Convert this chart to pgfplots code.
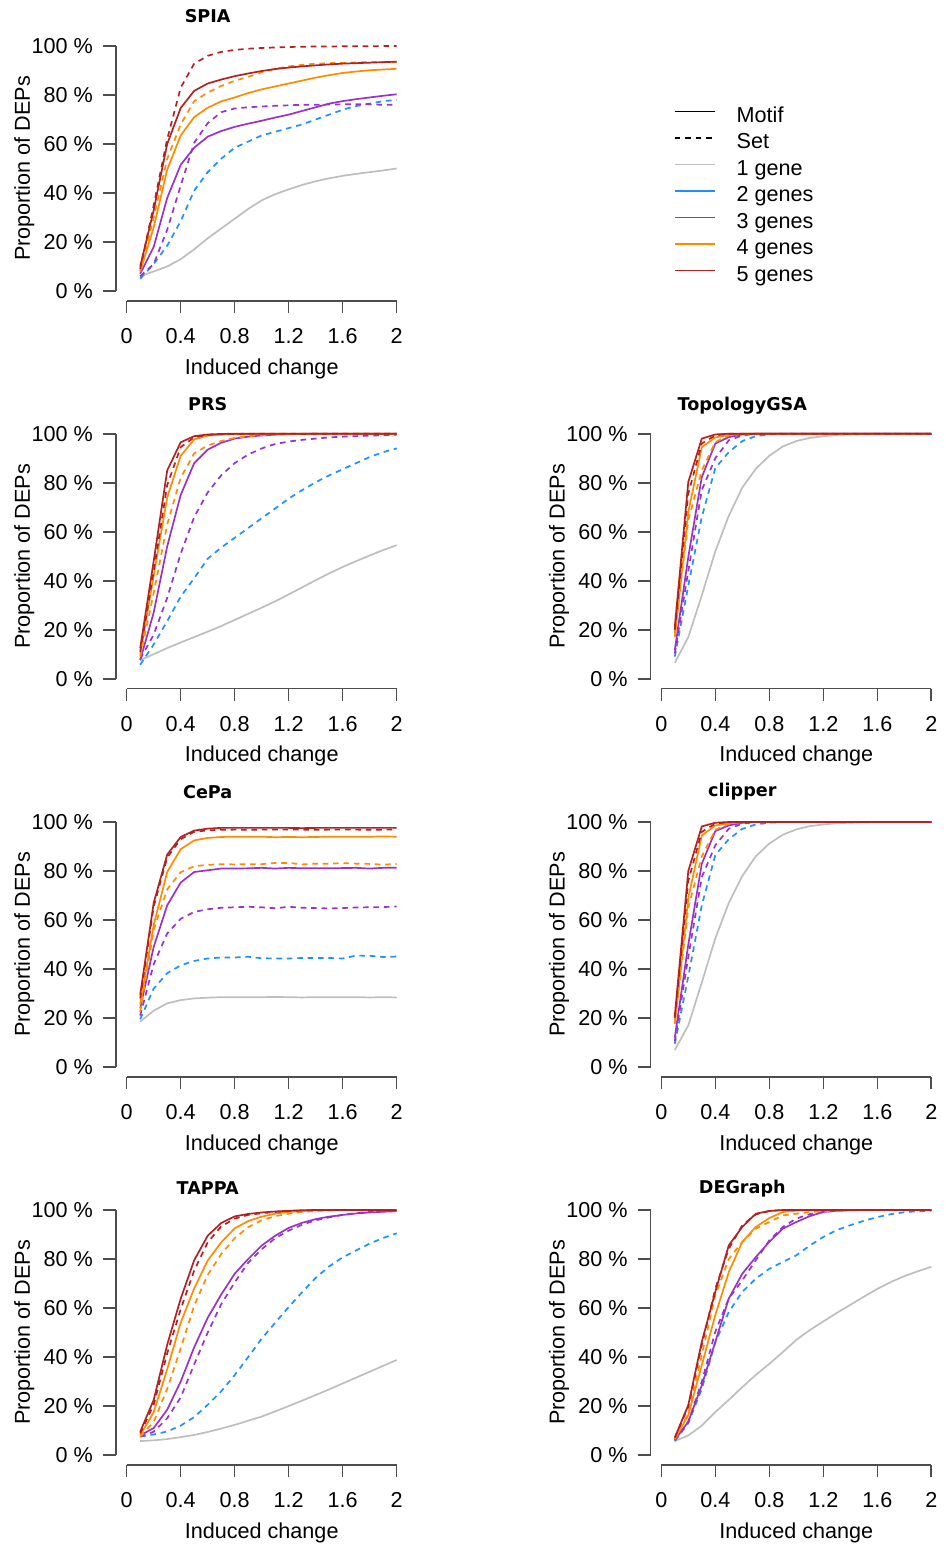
\documentclass[border=0pt]{standalone}
\usepackage{fontspec}
\setmainfont{Liberation Sans}
\newfontfamily\titlefamily{DejaVu Sans}
\usepackage{pgfplots}
\usepackage{pgfplotstable}
\pgfplotsset{compat=1.18}

\definecolor{cgray}{HTML}{BEBEBE}
\definecolor{cblue}{HTML}{1E90FF}
\definecolor{cpurple}{HTML}{9932CC}
\definecolor{corange}{HTML}{FF8C00}
\definecolor{cred}{HTML}{B22222}
\definecolor{axgray}{HTML}{4D4D4D}

\newcommand{\lab}{\fontsize{10.8}{13}\selectfont}
\newcommand{\ttl}{\titlefamily\bfseries\fontsize{8.8}{10}\selectfont}

% columns: x, 1 gene, 2 genes set, 3 genes motif, 3 genes set, 4 motif, 4 set, 5 motif, 5 set
\pgfplotstableread{
x    g1    bd    ps    pd    os    od    rs    rd
0.1  6     5     7     6     8     8     10    9
0.2  8     11    18    11    26    30    33    35
0.3  10    18.5  38    25    49.5  54    60    62
0.4  13    28.5  51.5  43    63.5  68    74.7  83
0.5  17    41    58.5  60.5  71    77.5  81.7  92.8
0.6  21.5  48.5  63    68.5  74.8  81    84.7  96
0.7  25.5  54    65.3  73    77.4  83.7  86.3  97.6
0.8  29.5  58.5  67    74.5  79    85.8  87.7  98.4
0.9  33.5  61    68.3  75    80.8  87.4  88.8  98.9
1.0  37    63.5  69.5  75.3  82.3  89.3  89.8  99.2
1.1  39.5  65    70.8  75.6  83.5  90.7  90.6  99.4
1.2  41.5  66.5  72    75.8  84.7  91.7  91.2  99.6
1.3  43.3  68    73.5  76    85.9  92.3  91.7  99.7
1.4  44.8  70    75    76    87.1  92.8  92.1  99.8
1.5  46    72    76.5  76.1  88.1  93    92.5  99.8
1.6  47    74    77.5  76.2  89    93.2  92.8  99.9
1.7  47.8  75.5  78.3  76.2  89.6  93.3  93    99.9
1.8  48.5  76.5  79    76.2  90.1  93.4  93.2  99.9
1.9  49.2  77.5  79.7  76    90.4  93.5  93.4  100
2.0  50    78    80.3  76    90.7  93.5  93.6  100
}\spia

\pgfplotstableread{
x    g1    bd    ps    pd    os    od    rs    rd
0.1  7.6   5.7   7.6   8     10    9     12.5  11
0.2  10    14    27    18    42    35    48    44
0.3  12.5  23.5  54    33    74    63    85    79
0.4  14.8  33.5  75    51    91    82    96.5  94.5
0.5  17    41    88    66    97.7  92    99    98.5
0.6  19.2  49    93.5  76    99.2  95.2  99.7  99.5
0.7  21.5  53.5  96.3  83    99.6  97    99.9  99.8
0.8  24    57.5  98    88    99.8  98.3  100   99.9
0.9  26.5  61.5  98.8  91.5  99.9  99    100   100
1.0  29    65.5  99.3  94    100   99.4  100   100
1.1  31.6  69.5  99.6  95.8  100   99.6  100   100
1.2  34.4  73.5  99.8  96.8  100   99.8  100   100
1.3  37.3  77    99.9  97.5  100   99.9  100   100
1.4  40.2  80.2  100   98    100   100   100   100
1.5  43    83    100   98.5  100   100   100   100
1.6  45.6  85.5  100   98.8  100   100   100   100
1.7  48    88    100   99    100   100   100   100
1.8  50.3  90.5  100   99.2  100   100   100   100
1.9  52.5  92.5  100   99.4  100   100   100   100
2.0  54.5  94    100   99.6  100   100   100   100
}\prs

\pgfplotstableread{
x    g1    bd    ps    pd    os    od    rs    rd
0.1  6.5   9     11.7  10.3  17    18.5  21.2  19.8
0.2  17    38    49.7  44    68    64.7  80.3  75.5
0.3  34    66    82.3  77    94.5  85    98    96
0.4  52    86    96    90    98.5  96.6  99.7  99.3
0.5  66.5  92.5  98.6  97.3  99.5  99.3  100   100
0.6  78    97    99.7  99.3  100   100   100   100
0.7  85.7  99    100   100   100   100   100   100
0.8  91    99.7  100   100   100   100   100   100
0.9  94.8  100   100   100   100   100   100   100
1.0  97    100   100   100   100   100   100   100
1.1  98.3  100   100   100   100   100   100   100
1.2  99    100   100   100   100   100   100   100
1.3  99.5  100   100   100   100   100   100   100
1.4  99.7  100   100   100   100   100   100   100
1.5  99.9  100   100   100   100   100   100   100
1.6  100   100   100   100   100   100   100   100
1.7  100   100   100   100   100   100   100   100
1.8  100   100   100   100   100   100   100   100
1.9  100   100   100   100   100   100   100   100
2.0  100   100   100   100   100   100   100   100
}\topo

\pgfplotstableread{
x    g1    bd    ps    pd    os    od    rs    rd
0.1  7     9.5   12    10.5  17.5  18.5  21    20
0.2  17    37    50    45    69    65    80    76
0.3  34.5  66    83    77.5  94.5  86    98.2  96
0.4  52.5  86.5  96.3  90.5  98.6  96.8  99.7  99.3
0.5  67    93    98.6  97.3  99.5  99.3  100   100
0.6  78    97.2  99.7  99.3  100   100   100   100
0.7  86    99    100   100   100   100   100   100
0.8  91.2  99.7  100   100   100   100   100   100
0.9  94.8  100   100   100   100   100   100   100
1.0  97    100   100   100   100   100   100   100
1.1  98.3  100   100   100   100   100   100   100
1.2  99    100   100   100   100   100   100   100
1.3  99.5  100   100   100   100   100   100   100
1.4  99.7  100   100   100   100   100   100   100
1.5  99.9  100   100   100   100   100   100   100
1.6  100   100   100   100   100   100   100   100
1.7  100   100   100   100   100   100   100   100
1.8  100   100   100   100   100   100   100   100
1.9  100   100   100   100   100   100   100   100
2.0  100   100   100   100   100   100   100   100
}\clipper

\pgfplotstableread{
x    g1    bd    ps    pd    os    od    rs    rd
0.1  18.5  19.5  24    21    25.5  22.5  29.5  28
0.2  23    32    49    42    58    56    67    65.5
0.3  26    38.3  66    54.5  79.6  72.5  86.7  85.5
0.4  27.3  41.5  75.3  60.5  88.9  79.5  93.9  93
0.5  28    43.3  79.6  63.3  92.5  82    96.5  96
0.6  28.3  44.3  80.3  64.4  93.5  82.5  97.3  96.6
0.7  28.5  44.7  81    65    93.9  82.8  97.6  96.8
0.8  28.5  44.7  81    65.2  94    82.7  97.6  96.9
0.9  28.5  45    81.1  65.4  94    82.8  97.6  96.8
1.0  28.5  44.4  81.3  65.2  94    82.8  97.6  96.9
1.1  28.6  44.3  81    64.8  93.8  83.3  97.6  96.9
1.2  28.5  44.3  81.3  65.4  93.9  83.3  97.6  96.9
1.3  28.4  44.5  81.1  65    93.8  82.7  97.5  96.9
1.4  28.5  44.5  81.1  64.9  93.9  83    97.6  96.8
1.5  28.5  44.5  81.1  64.7  94    83    97.6  96.9
1.6  28.5  44.3  81.2  64.9  94    83.2  97.6  96.9
1.7  28.5  45.5  81.3  65.1  94    83    97.6  96.9
1.8  28.4  45.4  81    65.2  94    82.9  97.6  96.8
1.9  28.5  44.9  81.3  65.3  94.1  82.6  97.6  96.9
2.0  28.4  45.1  81.3  65.5  94    82.9  97.6  96.9
}\cepa

\pgfplotstableread{
x    g1    bd    ps    pd    os    od    rs    rd
0.1  5.7   7.5   8     7.5   8     7.5   9.5   8.8
0.2  6     8.4   11    9.5   17.5  13.5  22.5  20.5
0.3  6.5   9.6   18.5  15    35    27    45    41.5
0.4  7.3   12    30    23.5  54    43.5  63.8  59.5
0.5  8.2   15.5  44    37    68    61    79.5  75.3
0.6  9.4   20.5  56    50    79.4  73.5  89.5  86.8
0.7  10.8  26    65.5  61.5  86.8  82    94.7  93.3
0.8  12.3  32.6  74    70.5  92.5  88.5  97.4  96.5
0.9  14    40    80    78.5  95.5  93    98.4  98
1.0  15.7  47.5  85.5  84    97.3  95.8  99    98.7
1.1  17.8  54    89.5  88.5  98.5  97.5  99.4  99.2
1.2  20    60.4  92.7  91.6  99.2  98.5  99.7  99.6
1.3  22.2  66.5  94.8  94    99.6  99.2  99.9  99.8
1.4  24.5  72.3  96.3  95.8  99.8  99.6  100   100
1.5  26.8  77    97.3  97    99.9  99.8  100   100
1.6  29.2  80.7  98    98    100   100   100   100
1.7  31.6  83.5  98.6  98.7  100   100   100   100
1.8  34    86.3  99    99.2  100   100   100   100
1.9  36.4  88.6  99.3  99.5  100   100   100   100
2.0  38.8  90.5  99.5  99.7  100   100   100   100
}\tappa

\pgfplotstableread{
x    g1    bd    ps    pd    os    od    rs    rd
0.1  5.7   5.7   6.1   6.1   6.5   6.5   7.1   7.1
0.2  8     13    13.6  13.6  16.3  17    20.4  19.7
0.3  12    27    28.5  29.9  36.7  40.8  46.2  44.8
0.4  17.5  46    46.2  50.3  57.1  65.2  66.6  67.9
0.5  22.5  58.4  63.9  63.9  74.7  80    85.6  84.2
0.6  27.7  66.6  74    71.3  87    87    93.1  93.8
0.7  32.7  72    80.8  79.5  93.1  92.4  98.5  98.2
0.8  37.2  76    87    87.6  96.7  95.1  99.6  99.6
0.9  42    78.8  92.4  93.1  99.2  97.8  100   100
1.0  47    81.5  95.1  96.5  99.7  98.5  100   100
1.1  51    85.5  97.5  98.3  100   99.2  100   100
1.2  54.5  89    99.2  99.2  100   99.5  100   100
1.3  58    91.8  99.7  99.7  100   99.8  100   100
1.4  61.3  93.8  99.9  100   100   100   100   100
1.5  64.6  95.6  100   100   100   100   100   100
1.6  67.8  97.1  100   100   100   100   100   100
1.7  70.6  98.3  100   100   100   100   100   100
1.8  73    99.1  100   100   100   100   100   100
1.9  75    99.5  100   100   100   100   100   100
2.0  76.8  99.7  100   100   100   100   100   100
}\degraph

\pgfplotsset{
  panel/.style={
    scale only axis, width=145.8pt, height=132.3pt,
    xmin=-0.08, xmax=2.08, ymin=-4, ymax=104,
    axis lines*=left, axis line style={draw=none},
    clip=false,
    xtick={0,0.4,0.8,1.2,1.6,2}, xticklabels={0,0.4,0.8,1.2,1.6,2},
    ytick={0,20,40,60,80,100},
    yticklabels={0 \%,20 \%,40 \%,60 \%,80 \%,100 \%},
    /pgf/number format/assume math mode=true,
    tick align=outside, major tick length=6.3pt,
    tick style={axgray, line width=0.8pt},
    tick label style={font=\lab},
    xticklabel style={anchor=base, inner sep=0pt, yshift=-14.95pt},
    yticklabel style={anchor=east, inner sep=0pt, xshift=-5pt},
  },
  ln/.style={no markers, line width=0.85pt, line join=round},
  dsh/.style={dash pattern=on 2.8pt off 2.4pt},
}

\newcommand{\drawpanel}[5]{%
\begin{axis}[panel, at={(#2,#3)}, anchor=south west]
  \addplot[ln, cgray] table[x=x,y=g1]{#1};
  \addplot[ln, cblue, dsh] table[x=x,y=bd]{#1};
  \addplot[ln, cpurple] table[x=x,y=ps]{#1};
  \addplot[ln, cpurple, dsh] table[x=x,y=pd]{#1};
  \addplot[ln, corange] table[x=x,y=os]{#1};
  \addplot[ln, corange, dsh] table[x=x,y=od]{#1};
  \addplot[ln, cred] table[x=x,y=rs]{#1};
  \addplot[ln, cred, dsh] table[x=x,y=rd]{#1};
  \draw[axgray, line width=0.8pt] (axis cs:0,-4) -- (axis cs:2,-4);
  \draw[axgray, line width=0.8pt] (axis cs:-0.08,0) -- (axis cs:-0.08,100);
  \node[font=\ttl, anchor=base] at (axis cs:0.6,#5) {#4};
  \node[font=\lab, rotate=90, anchor=base] at (axis cs:-0.717,50) {Proportion of DEPs};
  \node[font=\lab, anchor=base] at (axis cs:1,-33.9) {Induced change};
\end{axis}}

\begin{document}
\begin{tikzpicture}
\path[use as bounding box] (0,0) rectangle (473pt,-772pt);
\drawpanel{\spia}{57.95pt}{-150.4pt}{SPIA}{109.4}
\drawpanel{\prs}{57.95pt}{-344.25pt}{PRS}{109.4}
\drawpanel{\topo}{325.25pt}{-344.25pt}{TopologyGSA}{109.6}
\drawpanel{\cepa}{57.95pt}{-538.4pt}{CePa}{109.7}
\drawpanel{\clipper}{325.25pt}{-538.4pt}{clipper}{110.3}
\drawpanel{\tappa}{57.95pt}{-732.4pt}{TAPPA}{106.3}
\drawpanel{\degraph}{325.25pt}{-732.4pt}{DEGraph}{106.6}
\begin{axis}[hide axis, scale only axis, width=10pt, height=10pt,
  at={(337pt,-52.5pt)}, anchor=north west, xmin=0, xmax=1, ymin=0, ymax=1,
  legend cell align=left,
  legend style={at={(0,1)}, anchor=north west, draw=none, fill=none,
    inner sep=0pt, outer sep=0pt, row sep=0pt, font=\lab,
    nodes={inner sep=0pt, text height=8.5pt, text depth=4.75pt}},
  legend image code/.code={\draw[#1] (0pt,3.4pt) -- (20pt,3.4pt); \path (30.5pt,3.4pt);}]
  \addlegendimage{black, line width=0.85pt}
  \addlegendentry{Motif}
  \addlegendimage{black, line width=0.85pt, dash pattern=on 2.8pt off 2.4pt}
  \addlegendentry{Set}
  \addlegendimage{cgray, line width=0.85pt}
  \addlegendentry{1 gene}
  \addlegendimage{cblue, line width=0.85pt}
  \addlegendentry{2 genes}
  \addlegendimage{cpurple, line width=0.85pt}
  \addlegendentry{3 genes}
  \addlegendimage{corange, line width=0.85pt}
  \addlegendentry{4 genes}
  \addlegendimage{cred, line width=0.85pt}
  \addlegendentry{5 genes}
\end{axis}
\end{tikzpicture}
\end{document}
